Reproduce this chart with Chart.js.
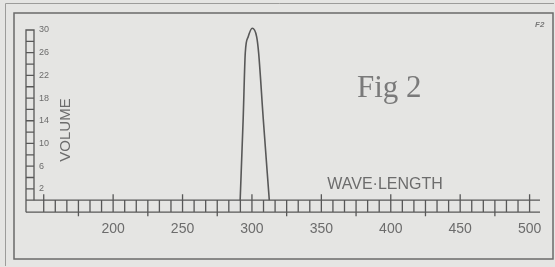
<!DOCTYPE html>
<html>
<head>
<meta charset="utf-8">
<script src="https://cdn.jsdelivr.net/npm/chart.js@4/dist/chart.umd.min.js"></script>
<style>
  html, body { margin: 0; padding: 0; background: #e5e5e3; }
  #spectrumChart { display: block; }
</style>
</head>
<body>
<canvas id="spectrumChart" width="555" height="267"></canvas>
<script>
const waveLengths = [291.5, 293.7, 295.2, 297.3, 300.2, 303.4, 304.8, 308.1, 312.5];
const volumes = [0, 14.5, 26, 28.8, 30.3, 28.8, 26, 14.5, 0];
const xTickLabels = [200, 250, 300, 350, 400, 450, 500];
const yTickLabels = [2, 6, 10, 14, 18, 22, 26, 30];

const colors = {
  paper: "#e5e5e3",
  ink: "#585858",
  faint: "#9c9c9a",
  text: "#6c6c6c",
};

// hand drawn frame, ladders and captions
const sketchPlugin = {
  id: "sketch",
  beforeDraw(chart) {
    const { ctx, width, height } = chart;
    ctx.save();
    ctx.fillStyle = colors.paper;
    ctx.fillRect(0, 0, width, height);

    ctx.strokeStyle = colors.faint;
    ctx.lineWidth = 1;
    ctx.beginPath();
    ctx.moveTo(5.5, 266);
    ctx.lineTo(5.5, 3.5);
    ctx.lineTo(554, 3.5);
    ctx.stroke();

    ctx.strokeStyle = "#6a6a6a";
    ctx.lineWidth = 1.5;
    ctx.strokeRect(14, 13, 539, 246);
    ctx.restore();
  },
  beforeDatasetsDraw(chart) {
    const { ctx, scales } = chart;
    const x = scales.x;
    const y = scales.y;
    const axisTop = y.getPixelForValue(0);
    const axisBottom = axisTop + 12;
    const ladderLeft = x.left - 8;
    const ladderRight = x.right;

    ctx.save();
    ctx.strokeStyle = colors.ink;
    ctx.lineWidth = 1.3;

    // volume ladder
    const yTop = y.getPixelForValue(30);
    ctx.beginPath();
    ctx.moveTo(ladderLeft, axisBottom);
    ctx.lineTo(ladderLeft, yTop);
    ctx.lineTo(x.left, yTop);
    ctx.lineTo(x.left, axisTop);
    for (let v = 2; v < 30; v += 2) {
      const py = y.getPixelForValue(v);
      ctx.moveTo(ladderLeft, py);
      ctx.lineTo(x.left, py);
    }
    ctx.stroke();

    // wave length ladder
    ctx.beginPath();
    ctx.moveTo(ladderLeft, axisTop);
    ctx.lineTo(ladderRight, axisTop);
    ctx.moveTo(ladderLeft, axisBottom);
    ctx.lineTo(ladderRight, axisBottom);
    const step = 50 / 6;
    for (let k = -7; k <= 37; k++) {
      const value = 200 + k * step;
      const px = x.getPixelForValue(value);
      if (px <= x.left + 2 || px >= ladderRight - 2) continue;
      if (k % 6 === 0) {
        ctx.moveTo(px, axisTop - 6);
        ctx.lineTo(px, axisBottom);
      } else if (k % 3 === 0) {
        ctx.moveTo(px, axisTop);
        ctx.lineTo(px, axisBottom + 4);
      } else {
        ctx.moveTo(px, axisTop);
        ctx.lineTo(px, axisBottom);
      }
    }
    ctx.stroke();

    // captions
    ctx.fillStyle = colors.text;
    ctx.textBaseline = "middle";
    ctx.textAlign = "center";
    ctx.font = "16px 'Liberation Sans'";
    ctx.fillText("WAVE\u00b7LENGTH", 385, 185);

    ctx.save();
    ctx.translate(66, 130);
    ctx.rotate(-Math.PI / 2);
    ctx.font = "15px 'Liberation Sans'";
    ctx.fillText("VOLUME", 0, 0);
    ctx.restore();

    ctx.fillStyle = "#7a7a7a";
    ctx.textAlign = "left";
    ctx.textBaseline = "alphabetic";
    ctx.font = "31px 'Liberation Serif'";
    ctx.fillText("Fig 2", 357, 97);

    ctx.font = "italic bold 8px 'Liberation Sans'";
    ctx.fillText("F2", 535, 27);
    ctx.restore();
  },
};

const buildChart = () => {
  const canvas = document.getElementById("spectrumChart");

  new Chart(canvas, {
    type: "scatter",
    data: {
      datasets: [
        {
          data: waveLengths.map((w, i) => ({ x: w, y: volumes[i] })),
          showLine: true,
          cubicInterpolationMode: "monotone",
          borderColor: colors.ink,
          borderWidth: 1.6,
          pointRadius: 0,
          clip: false,
        },
      ],
    },
    options: {
      responsive: false,
      animation: false,
      layout: { padding: { left: 24, right: 15, top: 30, bottom: 8 } },
      plugins: {
        legend: { display: false },
        tooltip: { enabled: false },
      },
      scales: {
        x: {
          type: "linear",
          min: 143,
          max: 507.5,
          afterBuildTicks: (scale) => {
            scale.ticks = xTickLabels.map((v) => ({ value: v }));
          },
          afterFit: (scale) => {
            scale.paddingLeft = 0;
            scale.paddingRight = 0;
          },
          grid: { display: false, drawTicks: false },
          border: { display: false },
          ticks: {
            padding: 21,
            color: colors.text,
            font: { family: "'Liberation Sans'", size: 14 },
            maxRotation: 0,
          },
        },
        y: {
          min: 0,
          max: 30,
          afterBuildTicks: (scale) => {
            scale.ticks = yTickLabels.map((v) => ({ value: v }));
          },
          afterFit: (scale) => {
            scale.paddingTop = 0;
            scale.paddingBottom = 0;
          },
          grid: { display: false, drawTicks: false },
          border: { display: false },
          ticks: {
            mirror: true,
            padding: 5,
            color: colors.text,
            font: { family: "'Liberation Sans'", size: 9 },
          },
        },
      },
    },
    plugins: [sketchPlugin],
  });
};

document.addEventListener("DOMContentLoaded", buildChart);
</script>
</body>
</html>
